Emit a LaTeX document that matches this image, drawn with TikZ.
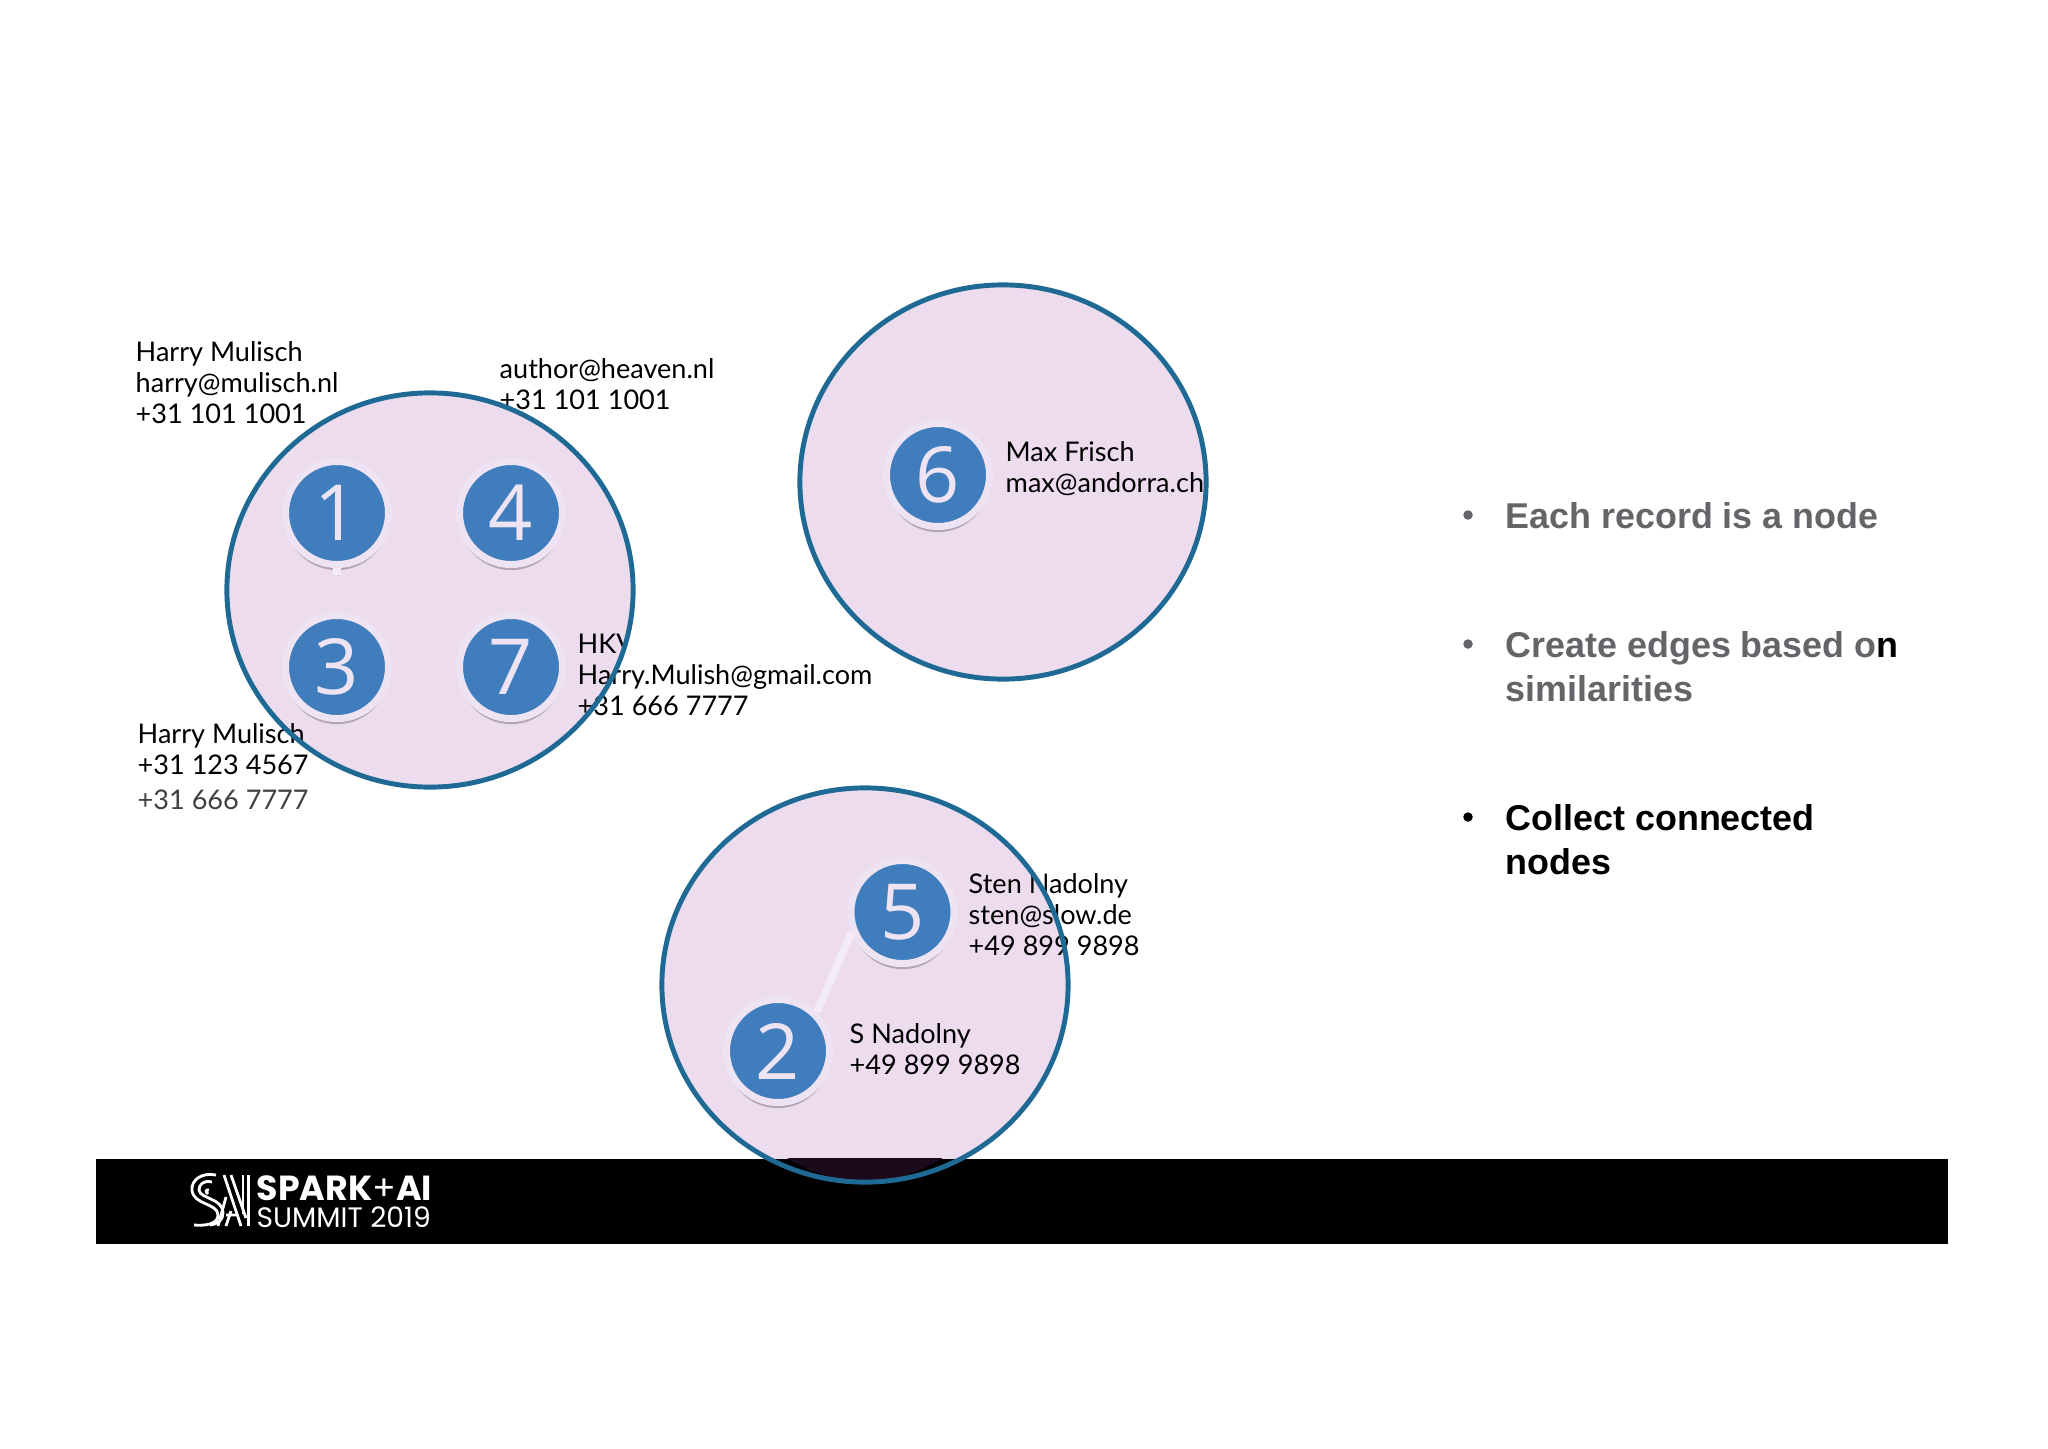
\documentclass[tikz,border=0pt]{standalone}
\usepackage{fontspec}
\setmainfont{Lato}
\newfontfamily\bulletfont{Liberation Sans}
\newfontfamily\logofont{Poppins}
\newfontfamily\digitfont{Open Sans}
\usetikzlibrary{shapes.geometric, shadows}
\definecolor{clusterpink}{HTML}{ECDCEE}
\definecolor{clusterblue}{HTML}{1F6A94}
\definecolor{clusterdark}{HTML}{1A0A1C}
\definecolor{recordblue}{HTML}{3F7DBD}
\definecolor{recordring}{HTML}{EEE3F2}
\definecolor{edgepale}{HTML}{F3EBF6}
\definecolor{bulletgray}{HTML}{656468}
\tikzset{
  clusterfill/.style={ellipse, minimum width=4.06cm, minimum height=3.94cm, inner sep=0pt, fill=clusterpink},
  clusterrim/.style={ellipse, minimum width=4.06cm, minimum height=3.94cm, inner sep=0pt, draw=clusterblue, line width=1.4pt},
  recordnode/.style={circle, minimum size=1.03cm, inner sep=0pt, fill=recordblue, draw=recordring, line width=2pt,
    text=recordring, font=\digitfont\fontsize{22}{22}\selectfont,
    drop shadow={shadow xshift=0pt, shadow yshift=-1.6pt, opacity=0.55, fill=black!45!clusterpink}},
  recordlabel/.style={anchor=north west, align=left, inner sep=0pt, text=black, font=\fontsize{7.7}{8.8}\selectfont},
  recordedge/.style={line width=2.2pt, draw=edgepale,
    preaction={draw=black!18!clusterpink, transform canvas={xshift=0.5pt, yshift=-0.4pt}}},
  bullettext/.style={anchor=north west, align=left, inner sep=0pt, font=\bulletfont\bfseries\fontsize{10.2}{12.4}\selectfont},
  bulletdot/.style={circle, minimum size=0.095cm, inner sep=0pt},
  logoline/.style={white, line width=0.8pt}
}
\begin{document}
\begin{tikzpicture}[x=0.01cm, y=-0.01cm]
    \useasboundingbox (0,0) rectangle (2048,1448);
    \fill[white] (0,0) rectangle (2048,1448);

    % Manchas de los grupos
    \node[clusterfill] (clusterA) at (430,590) {};
    \node[clusterfill] (clusterB) at (1003,482) {};
    \node[clusterfill] (clusterC) at (865,985) {};

    % Banda inferior
    \node[fill=black, minimum width=18.505cm, minimum height=0.85cm, inner sep=0pt, anchor=north west] (band) at (95.5,1158) {};
    \begin{scope}
        \clip (95.5,1158) rectangle (1947,1243);
        \fill[clusterdark] (865,985) ellipse [x radius=165, y radius=196];
    \end{scope}

    % Registros
    \node[recordnode] (rec1) at (337,513) {1};
    \node[recordnode] (rec4) at (511,513) {4};
    \node[recordnode] (rec3) at (337,667) {3};
    \node[recordnode] (rec7) at (511,667) {7};
    \node[recordnode] (rec6) at (938,475) {6};
    \node[recordnode] (rec5) at (902.5,912) {5};
    \node[recordnode] (rec2) at (778,1051) {2};

    % Aristas
    \draw[recordedge] (rec2.45) -- (rec5.202);
    \coordinate (stub1) at (337,575);
    \draw[recordedge] (rec1.south) -- (stub1);

    % Textos de los registros
    \node[recordlabel] (text1) at (135,341) {Harry Mulisch\\harry@mulisch.nl\\+31 101 1001};
    \node[recordlabel] (text4) at (499,358) {author@heaven.nl\\+31 101 1001};
    \node[recordlabel] (text3) at (137,723) {Harry Mulisch\\+31 123 4567\\[1.2pt]{\color{black!75}+31 666 7777}};
    \begin{scope}
        \clip (430,590) ellipse [x radius=203, y radius=197];
        \node[recordlabel] (text7top) at (577,633) {HKV};
    \end{scope}
    \node[recordlabel] (text7) at (577,664) {Harry.Mulish@gmail.com\\+31 666 7777};
    \node[recordlabel] (text6) at (1005,441) {Max Frisch\\max@andorra.ch};
    \node[recordlabel] (text5) at (968,873) {Sten Nadolny\\sten@slow.de\\+49 899 9898};
    \node[recordlabel] (text2) at (849,1023) {S Nadolny\\+49 899 9898};

    % Bordes de los grupos
    \node[clusterrim] (rimA) at (clusterA) {};
    \node[clusterrim] (rimB) at (clusterB) {};
    \node[clusterrim] (rimC) at (clusterC) {};

    % Lista derecha
    \node[bulletdot, fill=bulletgray] (dot1) at (1468,515) {};
    \node[bullettext, text=bulletgray] (item1) at (1505,502) {Each record is a node};
    \node[bulletdot, fill=bulletgray] (dot2) at (1468,644) {};
    \node[bullettext, text=bulletgray] (item2) at (1505,631) {Create edges based o{\color{black}n}\\similarities};
    \node[bulletdot, fill=black] (dot3) at (1468,817) {};
    \node[bullettext, text=black] (item3) at (1505,804) {Collect connected\\nodes};

    % Logo
    \node[anchor=north west, inner sep=0pt, text=white, font=\logofont\bfseries\fontsize{9.9}{9.9}\selectfont] (logotop) at (256,1175) {SPARK{\mdseries+}AI};
    \node[anchor=north west, inner sep=0pt, text=white, font=\logofont\fontsize{8}{8}\selectfont] (logobot) at (256,1206) {SUMMIT 2019};
    \draw[logoline] (248.5,1175) -- (248.5,1226) (243,1175) -- (243,1214);
    \draw[logoline] (224,1175) -- (241,1226) (231,1175) -- (246,1218);
    \draw[logoline] (226,1197) -- (218,1226) (231,1211) -- (226,1226) (226,1215) -- (236,1215);
    \draw[logoline] (216,1175) .. controls (202,1172) and (191,1180) .. (192,1190) .. controls (193,1205) and (218,1203) .. (218,1215) .. controls (218,1224) and (206,1226) .. (194,1225);
    \draw[logoline] (212,1182) .. controls (204,1180) and (199,1184) .. (199,1190) .. controls (200,1199) and (223,1198) .. (223,1213) .. controls (223,1220) and (218,1224) .. (210,1225);
    \draw[logoline] (209,1190) .. controls (206,1189) and (205,1192) .. (208,1194);
\end{tikzpicture}
\end{document}
